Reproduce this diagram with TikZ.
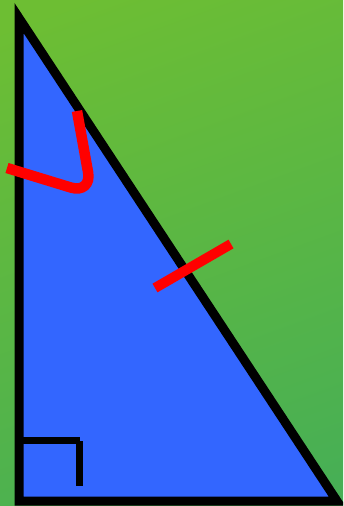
\documentclass[tikz,border=0pt]{standalone}
\usetikzlibrary{calc}

\definecolor{bgTop}{HTML}{6DBE33}
\definecolor{bgBottom}{HTML}{47AF55}
\definecolor{triBlue}{HTML}{3366FF}
\definecolor{markRed}{HTML}{FF0000}

\begin{document}
\begin{tikzpicture}[
    x=1pt, y=-1pt,
    triSide/.style={
        draw=black, line width=9pt, line join=miter, fill=triBlue
    },
    rightAngle/.style={
        draw=black, line width=7pt
    },
    angleArc/.style={
        draw=markRed, line width=10.5pt, rounded corners=22pt
    },
    tickMark/.style={
        draw=markRed, line width=10pt
    }
]

% Frame and background
\useasboundingbox (0,0) rectangle (343,506);
\clip (0,0) rectangle (343,506);
\shade[top color=bgTop, bottom color=bgBottom, shading angle=20] (-40,-40) rectangle (383,546);

% Vertices
\coordinate (apex) at (19,18);
\coordinate (corner) at (19,501);
\coordinate (foot) at (337,501);

% Triangle
\filldraw[triSide] (apex) -- (corner) -- (foot) -- cycle;

% Right angle
\draw[rightAngle] (19,440.5) -- (80,440.5);
\draw[rightAngle] (79.5,441) -- (79.5,486);

% Marks
\draw[angleArc] (7,168) -- (92,194) -- (77,111);
\draw[tickMark] (155,288) -- (231,244);

\end{tikzpicture}
\end{document}
